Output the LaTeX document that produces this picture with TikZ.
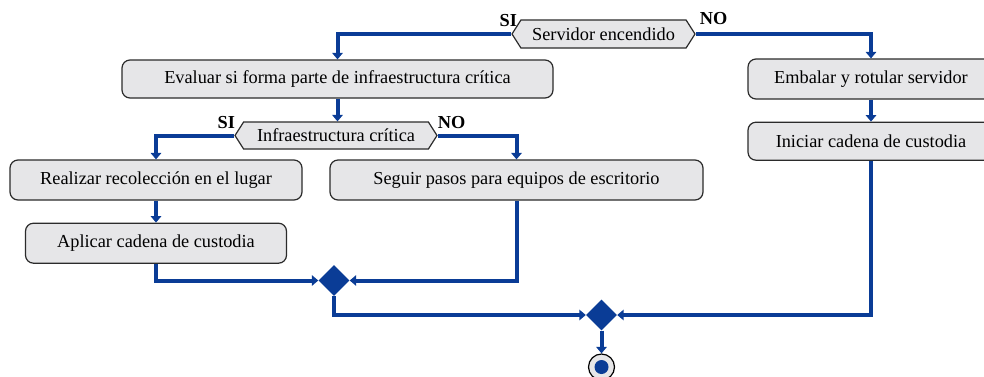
\documentclass[tikz,border=0pt]{standalone}
\usepackage{fontspec}
\setmainfont{Liberation Serif}
\usepackage{xcolor}
\usepackage{tikz}
\usetikzlibrary{positioning,arrows.meta,shapes.geometric,shapes.symbols,calc}
\definecolor{flowblue}{HTML}{0A3C96}
\definecolor{boxgrey}{HTML}{E6E6E8}
\definecolor{edgegrey}{HTML}{2B2B2B}
\tikzset{
  act/.style={rectangle, rounded corners=8pt, draw=edgegrey, fill=boxgrey,
              line width=1.2pt, align=center, inner sep=4pt,
              font=\fontsize{18.3}{21}\selectfont, minimum height=#1},
  act/.default=40pt,
  dec/.style={signal, signal to=west and east, signal pointer angle=115,
              draw=edgegrey, fill=boxgrey, line width=1.2pt, inner sep=2pt,
              font=\fontsize{18.3}{21}\selectfont},
  mrg/.style={diamond, fill=flowblue, inner sep=0pt, minimum size=31pt},
  ar/.style={-{Triangle[length=6.5pt,width=10.5pt]}, line width=4pt, draw=flowblue},
  lbl/.style={font=\fontsize{18.3}{21}\selectfont\bfseries, inner sep=0pt},
}
\begin{document}
\begin{tikzpicture}[x=1pt,y=-1pt]
  \useasboundingbox (0,0) rectangle (984,376);

  \node[dec, minimum width=183pt, minimum height=28pt] (srv) at (603.5,34) {Servidor encendido};
  \node[act=38pt, minimum width=431pt] (eval) at (337.5,79) {Evaluar si forma parte de infraestructura crítica};
  \node[act, minimum width=246pt] (emb) at (871,79) {Embalar y rotular servidor};
  \node[act=38pt, minimum width=246pt, below=22pt of emb] (ini) {Iniciar cadena de custodia};
  \node[dec, minimum width=202pt, minimum height=27pt] (infra) at (336,135.5) {Infraestructura crítica};
  \node[act, minimum width=292pt] (rec) at (156,180) {Realizar recolección en el lugar};
  \node[act, minimum width=373pt] (seg) at (516.5,180) {Seguir pasos para equipos de escritorio};
  \node[act, minimum width=261pt, below=22pt of rec.south, anchor=north] (apl) {Aplicar cadena de custodia};
  \node[mrg] (m1) at (334,280.5) {};
  \node[mrg] (m2) at (601.5,315) {};
  \node[circle, draw=black, fill=boxgrey, line width=1.2pt, minimum size=26pt, inner sep=0pt] (fin) at (601.5,367) {};
  \fill[flowblue] (fin.center) circle (7pt);

  \node[lbl] (si1) at ($(srv.west)+(-3,-13)$) {SI};
  \node[lbl] (no1) at ($(srv.east)+(18,-15)$) {NO};
  \node[lbl] (si2) at ($(infra.west)+(-8,-13)$) {SI};
  \node[lbl] (no2) at ($(infra.east)+(14,-13)$) {NO};

  \draw[ar] (srv.west) -| (eval.north);
  \draw[ar] (srv.east) -| (emb.north);
  \draw[ar] (emb.south) -- (ini.north);
  \draw[ar] (eval.south) -- (eval.south |- infra.north);
  \draw[ar] (infra.west) -| (rec.north);
  \draw[ar] (infra.east) -| (seg.north);
  \draw[ar] (rec.south) -- (rec.south |- apl.north);
  \draw[ar] (apl.south) |- (m1.west);
  \draw[ar] (seg.south) |- (m1.east);
  \draw[ar] (m1.south) |- (m2.west);
  \draw[ar] (ini.south) |- (m2.east);
  \draw[ar] (m2.south) -- (fin.north);
\end{tikzpicture}
\end{document}
